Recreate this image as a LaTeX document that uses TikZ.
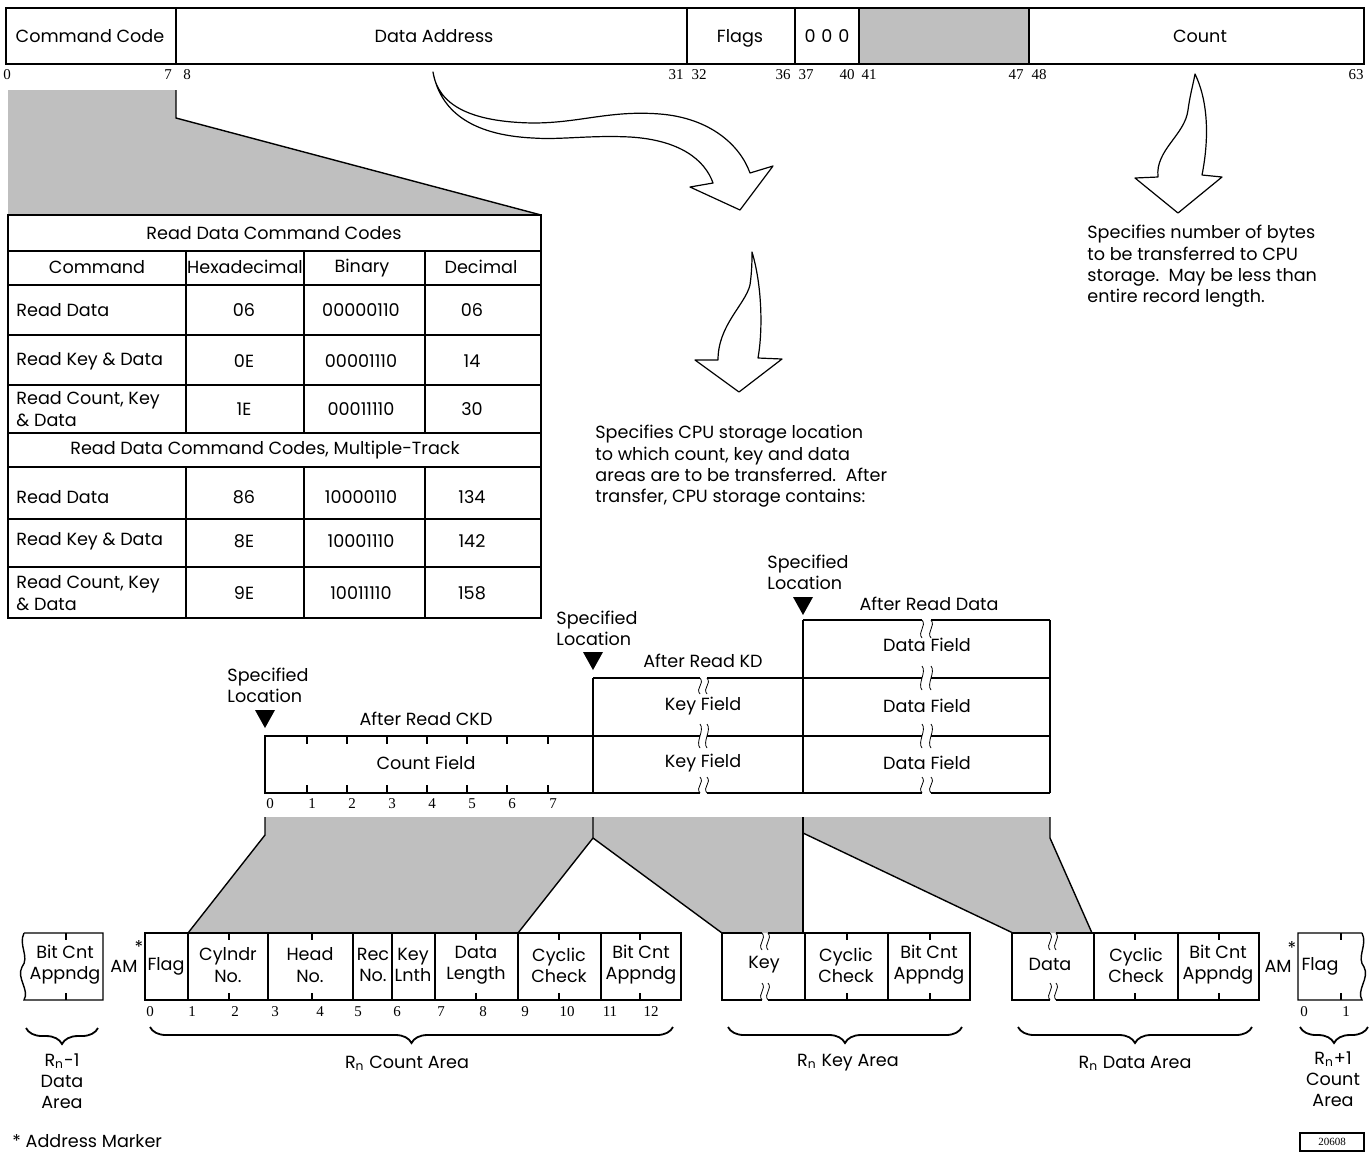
\documentclass[tikz,border=0pt]{standalone}
\usepackage{fontspec}
\setmainfont{Poppins}
\newfontfamily\numfont{Liberation Serif}
\usetikzlibrary{decorations.pathreplacing}
% little wavy break mark
\newcommand{\brk}[3]{\draw (#1,#2) .. controls +(5,6) and +(-5,-6) .. (#1,#3);}
\begin{document}
\begin{tikzpicture}[x=0.5pt, y=-0.5pt, font=\fontsize{8.8}{10.6}\selectfont,
  lbl/.style={inner sep=0pt, align=center},
  num/.style={inner sep=0pt, font=\numfont\fontsize{7.5}{8}\selectfont},
  frame/.style={line width=1.1pt},
  rule/.style={line width=0.7pt},
  shade/.style={fill=black!25},
  hollow/.style={fill=white, line width=0.6pt, line join=round},
  brc/.style={decorate, decoration={brace, mirror, amplitude=8pt}, line width=0.9pt}]
\useasboundingbox (0,0) rectangle (1370,1153);

% CCW bar
\fill[shade] (859,8) rectangle (1029,64);
\draw[frame] (6,8) rectangle (1364,64);
\foreach \x in {176,687,795,859,1029} \draw[frame] (\x,8) -- (\x,64);
\node[lbl] (cmd) at (90,36) {Command Code};
\node[lbl] (adr) at (434,36) {Data Address};
\node[lbl] (flg) at (740,38) {Flags};
\node[lbl] (zro) at (827,36) {0\,\,0\,\,0};
\node[lbl] (cnt) at (1200,36) {Count};
\foreach \x/\n in {7/0,168/7,187/8,676/31,699/32,783/36,806/37,847/40,869/41,1016/47,1039/48,1356/63}
  \node[num] (bit\n) at (\x,75) {\n};

% command code table
\fill[shade] (8,90) -- (176,90) -- (176,118) -- (541,215) -- (8,215) -- cycle;
\draw[rule] (176,90) -- (176,118) -- (541,215);
\draw[rule] (8,251) -- (541,251);
\draw[frame] (8,285) -- (541,285);
\draw[rule] (8,335) -- (541,335);
\draw[rule] (8,385) -- (541,385);
\draw[frame] (8,433) -- (541,433);
\draw[frame] (8,467) -- (541,467);
\draw[rule] (8,519) -- (541,519);
\draw[rule] (8,567) -- (541,567);
\foreach \x in {186,304,425} {\draw[rule] (\x,251) -- (\x,433); \draw[rule] (\x,467) -- (\x,618);}
\draw[frame] (8,215) rectangle (541,618);
\node[lbl] (ttl1) at (274,233) {Read Data Command Codes};
\node[lbl] (hcmd) at (97,267) {Command};
\node[lbl] (hhex) at (245,267) {Hexadecimal};
\node[lbl] (hbin) at (362,268) {Binary};
\node[lbl] (hdec) at (481,267) {Decimal};
\node[lbl] (ttl2) at (265,450) {Read Data Command Codes, Multiple-Track};
\foreach \y/\c/\h/\b/\d [count=\i] in {310/Read Data/06/00000110/06, 361/Read Key \& Data/0E/00001110/14,
    409/{Read Count, Key\\\& Data}/1E/00011110/30, 497/Read Data/86/10000110/134,
    541/Read Key \& Data/8E/10001110/142, 593/{Read Count, Key\\\& Data}/9E/10011110/158} {
  \node[lbl, anchor=west, align=left] (cm\i) at (16,\y) {\c};
  \node[lbl] (hx\i) at (244,\y) {\h};
  \node[lbl] (bn\i) at (361,\y) {\b};
  \node[lbl] (dc\i) at (472,\y) {\d};
}

% hollow arrows
\draw[hollow] (433,72) .. controls (438,105) and (470,122) .. (533,123)
  .. controls (580,123) and (610,110) .. (660,114) .. controls (710,118) and (740,145) .. (750,173)
  -- (773,166) -- (740,210) -- (690,187) -- (713,183)
  .. controls (705,160) and (680,140) .. (630,137) .. controls (590,135) and (560,140) .. (533,138)
  .. controls (470,135) and (440,110) .. (433,72) -- cycle;
\draw[hollow] (752,252) .. controls (762,285) and (763,330) .. (758,358) -- (782,359) -- (739,392)
  -- (695,360) -- (718,360) .. controls (718,325) and (745,305) .. (750,285)
  .. controls (752,270) and (752,260) .. (752,252) -- cycle;
\draw[hollow] (1195,74) .. controls (1210,105) and (1208,145) .. (1202,175) -- (1222,177) -- (1178,213)
  -- (1135,178) -- (1158,177) .. controls (1155,150) and (1185,135) .. (1188,110)
  .. controls (1190,95) and (1193,85) .. (1195,74) -- cycle;
\node[lbl, anchor=north west, align=left] (txtc) at (1087,225) {Specifies number of bytes\\to be transferred to CPU\\storage.\ \ May be less than\\entire record length.};
\node[lbl, anchor=north west, align=left] (txta) at (595,425) {Specifies CPU storage location\\to which count, key and data\\areas are to be transferred.\ \ After\\transfer, CPU storage contains:};

% CPU storage after each read
\draw[rule] (265,736) rectangle (593,793);
\foreach \x in {307,347,387,427,467,507,548} {\draw[rule] (\x,736) -- (\x,744); \draw[rule] (\x,793) -- (\x,785);}
\foreach \x/\n in {270/0,312/1,352/2,392/3,432/4,472/5,512/6,553/7} \node[num] (cf\n) at (\x,804) {\n};
\draw[rule] (593,678) -- (593,793);
\draw[rule] (803,620) -- (803,793);
\draw[rule] (1050,620) -- (1050,793);
\draw[rule] (593,678) -- (700,678);
\draw[rule] (593,736) -- (700,736);
\draw[rule] (593,793) -- (700,793);
\draw[rule] (803,620) -- (922,620);
\foreach \y in {678,736,793} \draw[rule] (707,\y) -- (922,\y);
\foreach \y in {620,678,736,793} \draw[rule] (931,\y) -- (1050,\y);
\foreach \x in {700,707} {\brk{\x}{678}{694} \brk{\x}{724}{748} \brk{\x}{777}{793}}
\foreach \x in {922,931} {\brk{\x}{620}{638} \brk{\x}{666}{690} \brk{\x}{724}{748} \brk{\x}{777}{793}}
\node[lbl] (cntf) at (426,763) {Count Field};
\node[lbl] (key1) at (703,706) {Key Field};
\node[lbl] (key2) at (703,763) {Key Field};
\node[lbl] (dat1) at (927,645) {Data Field};
\node[lbl] (dat2) at (927,706) {Data Field};
\node[lbl] (dat3) at (927,763) {Data Field};
\node[lbl] (ckd) at (426,719) {After Read CKD};
\node[lbl] (kd) at (703,661) {After Read KD};
\node[lbl] (rd) at (929,604) {After Read Data};
\node[lbl, align=left] (loc1) at (268,685) {Specified\\Location};
\node[lbl, align=left] (loc2) at (597,628) {Specified\\Location};
\node[lbl, align=left] (loc3) at (808,572) {Specified\\Location};
\fill (255,710) -- (275,710) -- (265,728) -- cycle;
\fill (583,652) -- (603,652) -- (593,670) -- cycle;
\fill (793,597) -- (813,597) -- (803,615) -- cycle;

% fan out onto the track
\fill[shade] (265,817) -- (593,817) -- (593,838) -- (518,933) -- (188,933) -- (265,835) -- cycle;
\fill[shade] (593,817) -- (803,817) -- (803,933) -- (722,933) -- (593,838) -- cycle;
\fill[shade] (803,817) -- (1050,817) -- (1050,838) -- (1092,933) -- (1013,933) -- (803,833) -- cycle;
\draw[rule] (265,817) -- (265,835) -- (188,933);
\draw[rule] (593,817) -- (593,838) -- (518,933);
\draw[rule] (593,838) -- (722,933);
\draw[rule] (803,817) -- (803,933);
\draw[rule] (803,833) -- (1013,933);
\draw[rule] (1050,817) -- (1050,838) -- (1092,933);

% track
\draw[rule] (24,933) -- (103,933) -- (103,1000) -- (24,1000)
  .. controls (30,990) and (16,978) .. (22,967) .. controls (30,957) and (18,945) .. (24,933);
\draw[rule] (66,933) -- (66,940) (66,1000) -- (66,993);
\node[lbl] (bc0) at (65,965) {Bit Cnt\\Appndg};
\node[lbl] (am1) at (124,966) {AM};
\node[lbl] (st1) at (139,947) {*};
\draw[rule] (145,933) rectangle (681,1000);
\foreach \x in {188,268,353,392,435,518,601} \draw[rule] (\x,933) -- (\x,1000);
\foreach \x in {229,312,476,559,640} {\draw[rule] (\x,933) -- (\x,940); \draw[rule] (\x,1000) -- (\x,993);}
\node[lbl] (flag) at (166,966) {Flag};
\node[lbl] (cyl) at (228,965) {Cylndr\\No.};
\node[lbl] (head) at (310,965) {Head\\No.};
\node[lbl] (rec) at (373,965) {Rec\\No.};
\node[lbl] (kl) at (413,965) {Key\\Lnth};
\node[lbl] (dl) at (476,965) {Data\\Length};
\node[lbl] (cc1) at (559,965) {Cyclic\\Check};
\node[lbl] (bc1) at (641,965) {Bit Cnt\\Appndg};
\foreach \x/\n in {150/0,192/1,235/2,275/3,320/4,358/5,397/6,441/7,483/8,525/9,567/10,610/11,651/12}
  \node[num] (ca\n) at (\x,1012) {\n};
\draw[rule] (762,933) -- (722,933) -- (722,1000) -- (762,1000);
\draw[rule] (768,933) -- (970,933) -- (970,1000) -- (768,1000);
\foreach \x in {805,888} \draw[rule] (\x,933) -- (\x,1000);
\foreach \x in {847,930} {\draw[rule] (\x,933) -- (\x,940); \draw[rule] (\x,1000) -- (\x,993);}
\foreach \x in {762,768} {\brk{\x}{933}{950} \brk{\x}{983}{1000}}
\node[lbl] (key) at (764,965) {Key};
\node[lbl] (cc2) at (846,965) {Cyclic\\Check};
\node[lbl] (bc2) at (929,965) {Bit Cnt\\Appndg};
\draw[rule] (1050,933) -- (1012,933) -- (1012,1000) -- (1050,1000);
\draw[rule] (1056,933) -- (1259,933) -- (1259,1000) -- (1056,1000);
\foreach \x in {1094,1178} \draw[rule] (\x,933) -- (\x,1000);
\foreach \x in {1135,1219} {\draw[rule] (\x,933) -- (\x,940); \draw[rule] (\x,1000) -- (\x,993);}
\foreach \x in {1050,1056} {\brk{\x}{933}{950} \brk{\x}{983}{1000}}
\node[lbl] (dat) at (1050,964) {Data};
\node[lbl] (cc3) at (1136,965) {Cyclic\\Check};
\node[lbl] (bc3) at (1218,965) {Bit Cnt\\Appndg};
\node[lbl] (am2) at (1278,966) {AM};
\node[lbl] (st2) at (1292,948) {*};
\draw[rule] (1362,933) -- (1298,933) -- (1298,1000) -- (1362,1000)
  .. controls (1356,990) and (1370,978) .. (1364,967) .. controls (1356,957) and (1368,945) .. (1362,933);
\draw[rule] (1341,933) -- (1341,940) (1341,1000) -- (1341,993);
\node[lbl] (flag2) at (1320,966) {Flag};
\node[num] (nx0) at (1304,1012) {0};
\node[num] (nx1) at (1346,1012) {1};

% braces and area names
\draw[brc] (26,1028) -- (98,1028);
\draw[brc] (150,1027) -- (673,1027);
\draw[brc] (728,1027) -- (962,1027);
\draw[brc] (1018,1027) -- (1252,1027);
\draw[brc] (1300,1027) -- (1368,1027);
\node[lbl] (rm1) at (62,1081) {R\textsubscript{n}-1\\Data\\Area};
\node[lbl] (rca) at (407,1063) {R\textsubscript{n} Count Area};
\node[lbl] (rka) at (848,1063) {R\textsubscript{n} Key Area};
\node[lbl] (rda) at (1135,1063) {R\textsubscript{n} Data Area};
\node[lbl] (rp1) at (1333,1079) {R\textsubscript{n}+1\\Count\\Area};
\node[lbl, anchor=west] (note) at (12,1141) {* Address Marker};
\node[draw, rule, inner sep=1pt, minimum width=32pt, minimum height=9pt, font=\numfont\fontsize{5.5}{6}\selectfont] (fig) at (1332,1142) {20608};
\end{tikzpicture}
\end{document}
